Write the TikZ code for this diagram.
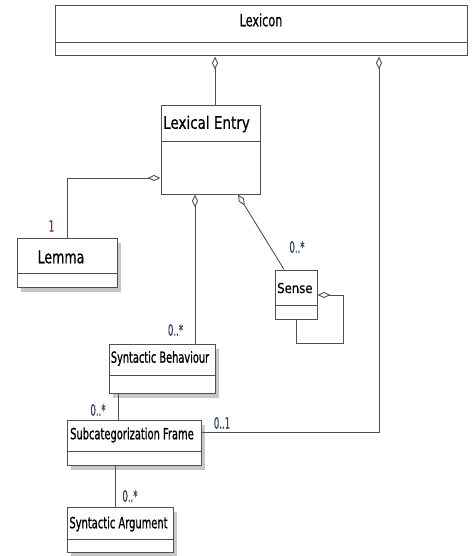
\documentclass[tikz,border=0pt]{standalone}
\usepackage{fontspec}
\setmainfont{DejaVu Sans Condensed}
\newfontfamily\fbA{DejaVu Sans Condensed}[FakeBold=0.6]
\newfontfamily\fbB{DejaVu Sans Condensed}[FakeBold=1.2]
\usepackage{graphicx}
\usetikzlibrary{arrows.meta,shadows}
\definecolor{lc}{HTML}{505050}
\definecolor{mult}{HTML}{34426A}
\definecolor{multred}{HTML}{A02828}
\newcommand\tx[3]{\fontsize{#1}{#1}\selectfont\scalebox{1}[#2]{#3}}
\tikzset{
  umlbox/.style={draw=lc, line width=1pt, fill=white, inner sep=0pt},
  shbox/.style={umlbox, drop shadow={shadow xshift=4pt, shadow yshift=-5pt, fill=black!22, opacity=1}},
  ttl/.style={inner sep=0pt, text=black},
  conn/.style={draw=lc, line width=0.9pt},
  agg/.style={conn, arrows={{Diamond[open,fill=white,length=13pt,width=6pt]}-}},
  multl/.style={inner sep=0pt, text=mult, font=\fbA},
}
\begin{document}
\begin{tikzpicture}[x=1pt,y=-1pt]
\useasboundingbox (0,0) rectangle (472,556);
% boxes
\node[umlbox, minimum width=412pt, minimum height=50pt] (lex) at (261,31) {};
\draw[conn] (lex.west |- 0,42) -- (lex.east |- 0,42);
\node[ttl, font=\fbA] (lexT) at (261,20) {\tx{12.5}{1.35}{Lexicon}};

\node[umlbox, minimum width=99pt, minimum height=88pt] (le) at (210.5,150) {};
\draw[conn] (le.west |- 0,141) -- (le.east |- 0,141);
\node[ttl, anchor=west, font=\fbA] (leT) at (163,124) {\tx{15}{1.15}{Lexical Entry}};

\node[shbox, minimum width=100pt, minimum height=49pt] (lm) at (67,262.5) {};
\draw[conn] (lm.west |- 0,273) -- (lm.east |- 0,273);
\node[ttl, font=\fbA] (lmT) at (61,257) {\tx{14}{1.25}{Lemma}};

\node[umlbox, minimum width=42pt, minimum height=49pt] (se) at (296,294.5) {};
\draw[conn] (se.west |- 0,305) -- (se.east |- 0,305);
\node[ttl, anchor=west, font=\fbA] (seT) at (277,288) {\tx{13}{1.05}{Sense}};

\node[shbox, minimum width=106pt, minimum height=49pt] (sb) at (162,368.5) {};
\draw[conn] (sb.west |- 0,375) -- (sb.east |- 0,375);
\node[ttl, font=\fbB] (sbT) at (160,358.5) {\tx{10.9}{1.4}{Syntactic Behaviour}};

\node[shbox, minimum width=134pt, minimum height=45pt] (sf) at (134,442.5) {};
\draw[conn] (sf.west |- 0,451) -- (sf.east |- 0,451);
\node[ttl, font=\fbB] (sfT) at (132,435) {\tx{11}{1.4}{Subcategorization Frame}};

\node[shbox, minimum width=106pt, minimum height=45pt] (sa) at (120,529.5) {};
\draw[conn] (sa.west |- 0,539) -- (sa.east |- 0,539);
\node[ttl, font=\fbB] (saT) at (118.5,524) {\tx{11}{1.4}{Syntactic Argument}};

% helper coordinates
\coordinate (a1) at (215,0);
\coordinate (a2) at (379,0);
\coordinate (a3) at (0,432);
\coordinate (a4) at (0,178);
\coordinate (a5) at (67,0);
\coordinate (a6) at (195,0);
\coordinate (a7) at (238,0);
\coordinate (a8) at (284,0);
\coordinate (a9) at (0,295);
\coordinate (a10) at (343,343);
\coordinate (a11) at (296,0);
\coordinate (a12) at (118,0);
\coordinate (a13) at (115,0);

% connectors
\draw[agg] (lex.south -| a1) -- (le.north -| a1);
\draw[agg] (lex.south -| a2) |- (sf.east |- a3);
\draw[agg] (le.west |- a4) -| (lm.north -| a5);
\draw[agg] (le.south -| a6) -- (sb.north -| a6);
\draw[agg] (le.south -| a7) -- (se.north -| a8);
\draw[agg] (se.east |- a9) -| (a10) -| (se.south -| a11);
\draw[conn] (sb.south -| a12) -- (sf.north -| a12);
\draw[conn] (sf.south -| a13) -- (sa.north -| a13);

% multiplicities
\node[multl] (m1) at (222,423) {\tx{9.5}{1.65}{0..1}};
\node[multl, text=multred] (m2) at (51.5,226) {\tx{9.5}{1.65}{1}};
\node[multl] (m3) at (175.5,330) {\tx{9.5}{1.65}{0..*}};
\node[multl] (m4) at (297,247) {\tx{9.5}{1.65}{0..*}};
\node[multl] (m5) at (98,410) {\tx{9.5}{1.65}{0..*}};
\node[multl] (m6) at (130,496) {\tx{9.5}{1.65}{0..*}};
\end{tikzpicture}
\end{document}
